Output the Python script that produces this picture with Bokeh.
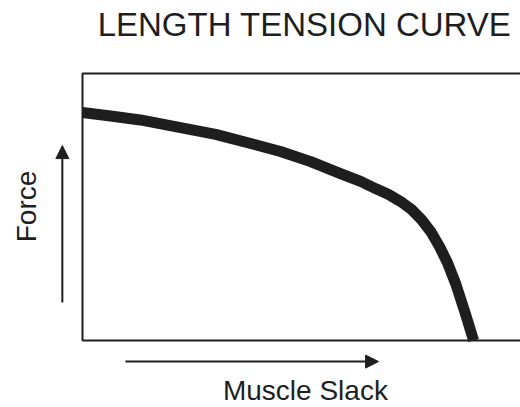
from bokeh.plotting import figure
from bokeh.models import Range1d, Arrow, NormalHead, Label
from bokeh.embed import file_html
from bokeh.resources import INLINE

# Data: muscle slack (arbitrary units, 0-100) vs force (0-100)
slack = [0, 6.4, 13.2, 21.2, 30.4, 38.4, 45.2, 52.1, 58.9, 63.5, 66.9, 69.9, 72.6,
         75.1, 77.4, 79.5, 81.5, 83.3, 85.2, 87.2, 89.3]
force = [85.4, 84.1, 82.6, 80.1, 77.2, 73.8, 70.8, 67.0, 62.5, 59.6, 56.9, 54.7, 52.1,
         49.1, 45.3, 40.8, 35.2, 29.2, 21.3, 11.2, 0.0]

# chart box (axes extent) in data units
box_x = [100, 0, 0, 100]
box_y = [100, 100, 0, 0]

title_text = "LENGTH TENSION CURVE"
x_label = "Muscle Slack"
y_label = "Force"

INK = "#1e1e1e"
FONT = "Liberation Sans"

p = figure(width=520, height=407, output_backend="svg", toolbar_location=None,
           x_range=Range1d(-18.72, 100), y_range=Range1d(-25.09, 127.34),
           min_border=0, x_axis_location=None, y_axis_location=None)
p.outline_line_color = None
p.grid.visible = False
p.background_fill_color = "white"
p.border_fill_color = "white"

# open box: top, left and bottom edges
p.line(box_x, box_y, line_width=2, line_color=INK)

# the curve, clipped at the box's bottom
p.line(slack, force, line_width=11, line_color=INK, line_join="round", line_cap="butt")

# direction arrows beside the axes
p.add_layout(Arrow(x_start=-4.6, y_start=14.2, x_end=-4.6, y_end=73.0,
                   line_width=2, line_color=INK,
                   end=NormalHead(size=13, fill_color=INK, line_color=INK)))
p.add_layout(Arrow(x_start=9.8, y_start=-7.9, x_end=67.6, y_end=-7.9,
                   line_width=2, line_color=INK,
                   end=NormalHead(size=13, fill_color=INK, line_color=INK)))

# texts
p.add_layout(Label(x=50.7, y=118.35, text=title_text, text_align="center",
                   text_baseline="middle", text_font=FONT, text_font_size="33px",
                   text_color=INK))
p.add_layout(Label(x=50.9, y=-18.73, text=x_label, text_align="center",
                   text_baseline="middle", text_font=FONT, text_font_size="28px",
                   text_color=INK))
p.add_layout(Label(x=-12.8, y=50.2, text=y_label, angle=1.5708, text_align="center",
                   text_baseline="middle", text_font=FONT, text_font_size="28px",
                   text_color=INK))

open("out.html", "w").write(file_html(p, INLINE))
